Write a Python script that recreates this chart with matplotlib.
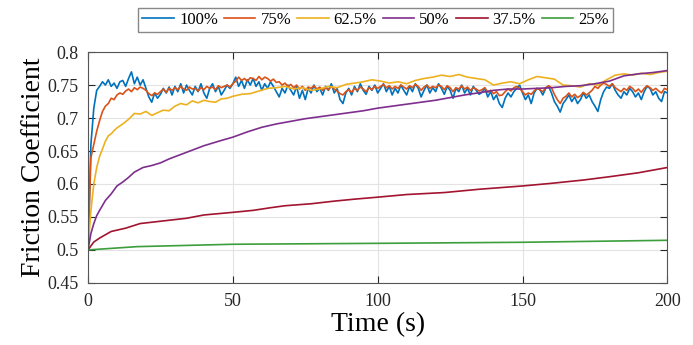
import numpy as np
import matplotlib
matplotlib.use('Agg')
import matplotlib.pyplot as plt

plt.rcParams['font.family'] = ['Liberation Serif', 'DejaVu Serif']

labels = ['100%', '75%', '62.5%', '50%', '37.5%', '25%']
colors = ['#0072BD', '#D95319', '#EDB120', '#7E2F8E', '#A2142F', '#3C9E3C']

# 100% and 75% sampled every second
t_fast = np.arange(0, 201)
mu_100 = [
    0.500, 0.660, 0.715, 0.742, 0.748, 0.755, 0.750, 0.758, 0.748, 0.753,
    0.745, 0.755, 0.757, 0.748, 0.760, 0.770, 0.752, 0.762, 0.750, 0.758,
    0.745, 0.732, 0.724, 0.738, 0.730, 0.736, 0.745, 0.738, 0.747, 0.735,
    0.748, 0.740, 0.752, 0.738, 0.750, 0.742, 0.735, 0.748, 0.740, 0.752,
    0.738, 0.730, 0.745, 0.752, 0.740, 0.748, 0.735, 0.742, 0.750, 0.745,
    0.752, 0.762, 0.748, 0.757, 0.745, 0.758, 0.750, 0.760, 0.748, 0.755,
    0.742, 0.752, 0.745, 0.755, 0.748, 0.740, 0.732, 0.745, 0.738, 0.750,
    0.742, 0.735, 0.748, 0.730, 0.742, 0.728, 0.745, 0.738, 0.750, 0.740,
    0.745, 0.735, 0.748, 0.742, 0.752, 0.738, 0.745, 0.728, 0.722, 0.738,
    0.745, 0.735, 0.748, 0.740, 0.752, 0.742, 0.736, 0.748, 0.742, 0.750,
    0.738, 0.745, 0.752, 0.740, 0.748, 0.735, 0.745, 0.738, 0.750, 0.742,
    0.735, 0.748, 0.740, 0.752, 0.745, 0.732, 0.742, 0.750, 0.738, 0.746,
    0.740, 0.752, 0.745, 0.736, 0.748, 0.742, 0.730, 0.745, 0.740, 0.750,
    0.738, 0.745, 0.735, 0.748, 0.742, 0.736, 0.739, 0.745, 0.732, 0.740,
    0.728, 0.735, 0.722, 0.716, 0.730, 0.738, 0.732, 0.740, 0.745, 0.750,
    0.738, 0.728, 0.735, 0.722, 0.738, 0.745, 0.743, 0.735, 0.745, 0.748,
    0.738, 0.725, 0.718, 0.709, 0.722, 0.728, 0.735, 0.725, 0.732, 0.722,
    0.728, 0.738, 0.730, 0.735, 0.725, 0.718, 0.710, 0.728, 0.740, 0.747,
    0.745, 0.752, 0.742, 0.735, 0.730, 0.740, 0.735, 0.745, 0.740, 0.732,
    0.738, 0.728, 0.740, 0.748, 0.745, 0.735, 0.740, 0.730, 0.725, 0.740,
    0.738,
]
mu_75 = [
    0.500, 0.640, 0.660, 0.680, 0.696, 0.710, 0.718, 0.722, 0.730, 0.728,
    0.735, 0.738, 0.736, 0.741, 0.744, 0.740, 0.746, 0.743, 0.747, 0.745,
    0.742, 0.737, 0.734, 0.738, 0.736, 0.740, 0.744, 0.739, 0.745, 0.742,
    0.746, 0.743, 0.748, 0.744, 0.742, 0.747, 0.744, 0.745, 0.741, 0.746,
    0.743, 0.748, 0.745, 0.747, 0.743, 0.749, 0.746, 0.748, 0.750, 0.747,
    0.752, 0.756, 0.762, 0.757, 0.760, 0.756, 0.761, 0.760, 0.757, 0.763,
    0.758, 0.762, 0.760, 0.756, 0.759, 0.754, 0.755, 0.750, 0.753, 0.748,
    0.751, 0.746, 0.750, 0.744, 0.748, 0.742, 0.747, 0.745, 0.749, 0.744,
    0.747, 0.742, 0.746, 0.743, 0.748, 0.744, 0.741, 0.737, 0.735, 0.740,
    0.743, 0.739, 0.745, 0.742, 0.747, 0.744, 0.740, 0.746, 0.743, 0.748,
    0.745, 0.748, 0.751, 0.746, 0.749, 0.744, 0.748, 0.745, 0.750, 0.747,
    0.744, 0.749, 0.746, 0.751, 0.748, 0.742, 0.747, 0.750, 0.745, 0.748,
    0.746, 0.750, 0.748, 0.743, 0.749, 0.746, 0.740, 0.746, 0.744, 0.749,
    0.744, 0.747, 0.742, 0.746, 0.744, 0.741, 0.743, 0.746, 0.739, 0.742,
    0.737, 0.740, 0.734, 0.735, 0.740, 0.744, 0.741, 0.746, 0.748, 0.745,
    0.740, 0.735, 0.738, 0.736, 0.741, 0.745, 0.743, 0.740, 0.746, 0.749,
    0.746, 0.736, 0.728, 0.722, 0.730, 0.733, 0.738, 0.732, 0.736, 0.731,
    0.734, 0.739, 0.735, 0.738, 0.742, 0.748, 0.745, 0.750, 0.753, 0.751,
    0.748, 0.752, 0.746, 0.743, 0.740, 0.745, 0.742, 0.748, 0.745, 0.740,
    0.744, 0.739, 0.745, 0.749, 0.746, 0.742, 0.745, 0.741, 0.738, 0.745,
    0.743,
]

t_625 = [0, 1, 2, 3, 4, 5, 6, 7, 8, 9, 10,
         12, 14, 16, 18, 20, 22, 24, 26, 28, 30,
         32, 34, 36, 38, 40, 42, 44, 46, 48, 50,
         53, 56, 59, 62, 65, 68, 71, 74, 77, 80,
         83, 86, 89, 92, 95, 98, 101, 104, 107, 110,
         113, 116, 119, 122, 125, 128, 131, 134, 137, 140,
         143, 146, 149, 152, 155, 158, 161, 164, 167, 170,
         173, 176, 179, 182, 185, 188, 191, 194, 197, 200]
mu_625 = [0.500, 0.560, 0.600, 0.625, 0.642, 0.653, 0.665, 0.673, 0.676, 0.681, 0.685,
          0.691, 0.698, 0.707, 0.706, 0.710, 0.704, 0.708, 0.712, 0.711, 0.718,
          0.722, 0.720, 0.726, 0.723, 0.727, 0.725, 0.724, 0.729, 0.730, 0.733,
          0.736, 0.737, 0.741, 0.745, 0.746, 0.748, 0.744, 0.746, 0.742, 0.744,
          0.748, 0.746, 0.751, 0.753, 0.755, 0.758, 0.756, 0.753, 0.755, 0.752,
          0.757, 0.760, 0.762, 0.765, 0.763, 0.766, 0.762, 0.760, 0.758, 0.750,
          0.753, 0.755, 0.752, 0.758, 0.763, 0.761, 0.759, 0.750, 0.749, 0.747,
          0.752, 0.750, 0.758, 0.765, 0.767, 0.765, 0.768, 0.766, 0.769, 0.771]

t_50 = [0, 1, 2, 3, 4, 6, 8, 10, 12, 14, 16, 19, 22, 25, 28, 31, 34, 37, 40, 43,
        46, 50, 55, 60, 65, 70, 75, 80, 85, 90, 95, 100, 105, 110, 115, 120,
        125, 130, 136, 140, 145, 150, 155, 160, 165, 170, 175, 180, 185, 190,
        195, 200]
mu_50 = [0.500, 0.525, 0.540, 0.552, 0.560, 0.575, 0.585, 0.597, 0.603, 0.610,
         0.618, 0.625, 0.628, 0.632, 0.638, 0.643, 0.648, 0.653, 0.658, 0.662,
         0.666, 0.671, 0.679, 0.686, 0.691, 0.695, 0.699, 0.702, 0.705, 0.708,
         0.711, 0.715, 0.718, 0.721, 0.724, 0.727, 0.731, 0.735, 0.739, 0.742,
         0.744, 0.744, 0.745, 0.746, 0.748, 0.749, 0.752, 0.756, 0.764, 0.767,
         0.769, 0.772]

t_375 = [0, 2, 4, 8, 13, 18, 22, 28, 34, 40, 45, 50, 57, 63, 68, 77, 85, 92,
         100, 110, 123, 135, 150, 160, 171, 180, 190, 200]
mu_375 = [0.500, 0.512, 0.518, 0.528, 0.533, 0.540, 0.542, 0.545, 0.548, 0.553,
          0.555, 0.557, 0.560, 0.564, 0.567, 0.570, 0.574, 0.577, 0.580, 0.584,
          0.587, 0.592, 0.597, 0.601, 0.606, 0.611, 0.617, 0.625]

t_25 = [0, 17, 50, 100, 150, 200]
mu_25 = [0.500, 0.505, 0.5086, 0.510, 0.5116, 0.5146]

series = [(t_fast, mu_100), (t_fast, mu_75), (t_625, mu_625),
          (t_50, mu_50), (t_375, mu_375), (t_25, mu_25)]

fig = plt.figure(figsize=(6.93, 3.45), dpi=100)
ax = fig.add_axes([0.127, 0.180, 0.836, 0.669])

for (t, mu), lab, c in zip(series, labels, colors):
    ax.plot(t, mu, color=c, lw=1.2, label=lab)

ax.set_xlim(0, 200)
ax.set_ylim(0.45, 0.8)
ax.set_xticks([0, 50, 100, 150, 200])
ax.set_yticks([0.45, 0.5, 0.55, 0.6, 0.65, 0.7, 0.75, 0.8])
ax.set_yticklabels(['0.45', '0.5', '0.55', '0.6', '0.65', '0.7', '0.75', '0.8'])
ax.grid(True, color='#e3e3e3', lw=0.8)
ax.set_axisbelow(True)
ax.tick_params(direction='in', top=True, right=True, length=5, width=0.8,
               labelsize=13, colors='#262626', pad=7)
for s in ax.spines.values():
    s.set_color('#555555')
    s.set_linewidth(0.8)

ax.set_xlabel('Time (s)', fontsize=20, labelpad=2)
ax.set_ylabel('Friction Coefficient', fontsize=20, labelpad=1)

fig.legend(loc='center', bbox_to_anchor=(0.542, 0.942), ncol=6, fontsize=12,
           frameon=True, fancybox=False, edgecolor='#888888', framealpha=1,
           handlelength=1.9, handletextpad=0.3, columnspacing=0.35,
           borderpad=0.25)

plt.savefig('out.png', dpi=100)
